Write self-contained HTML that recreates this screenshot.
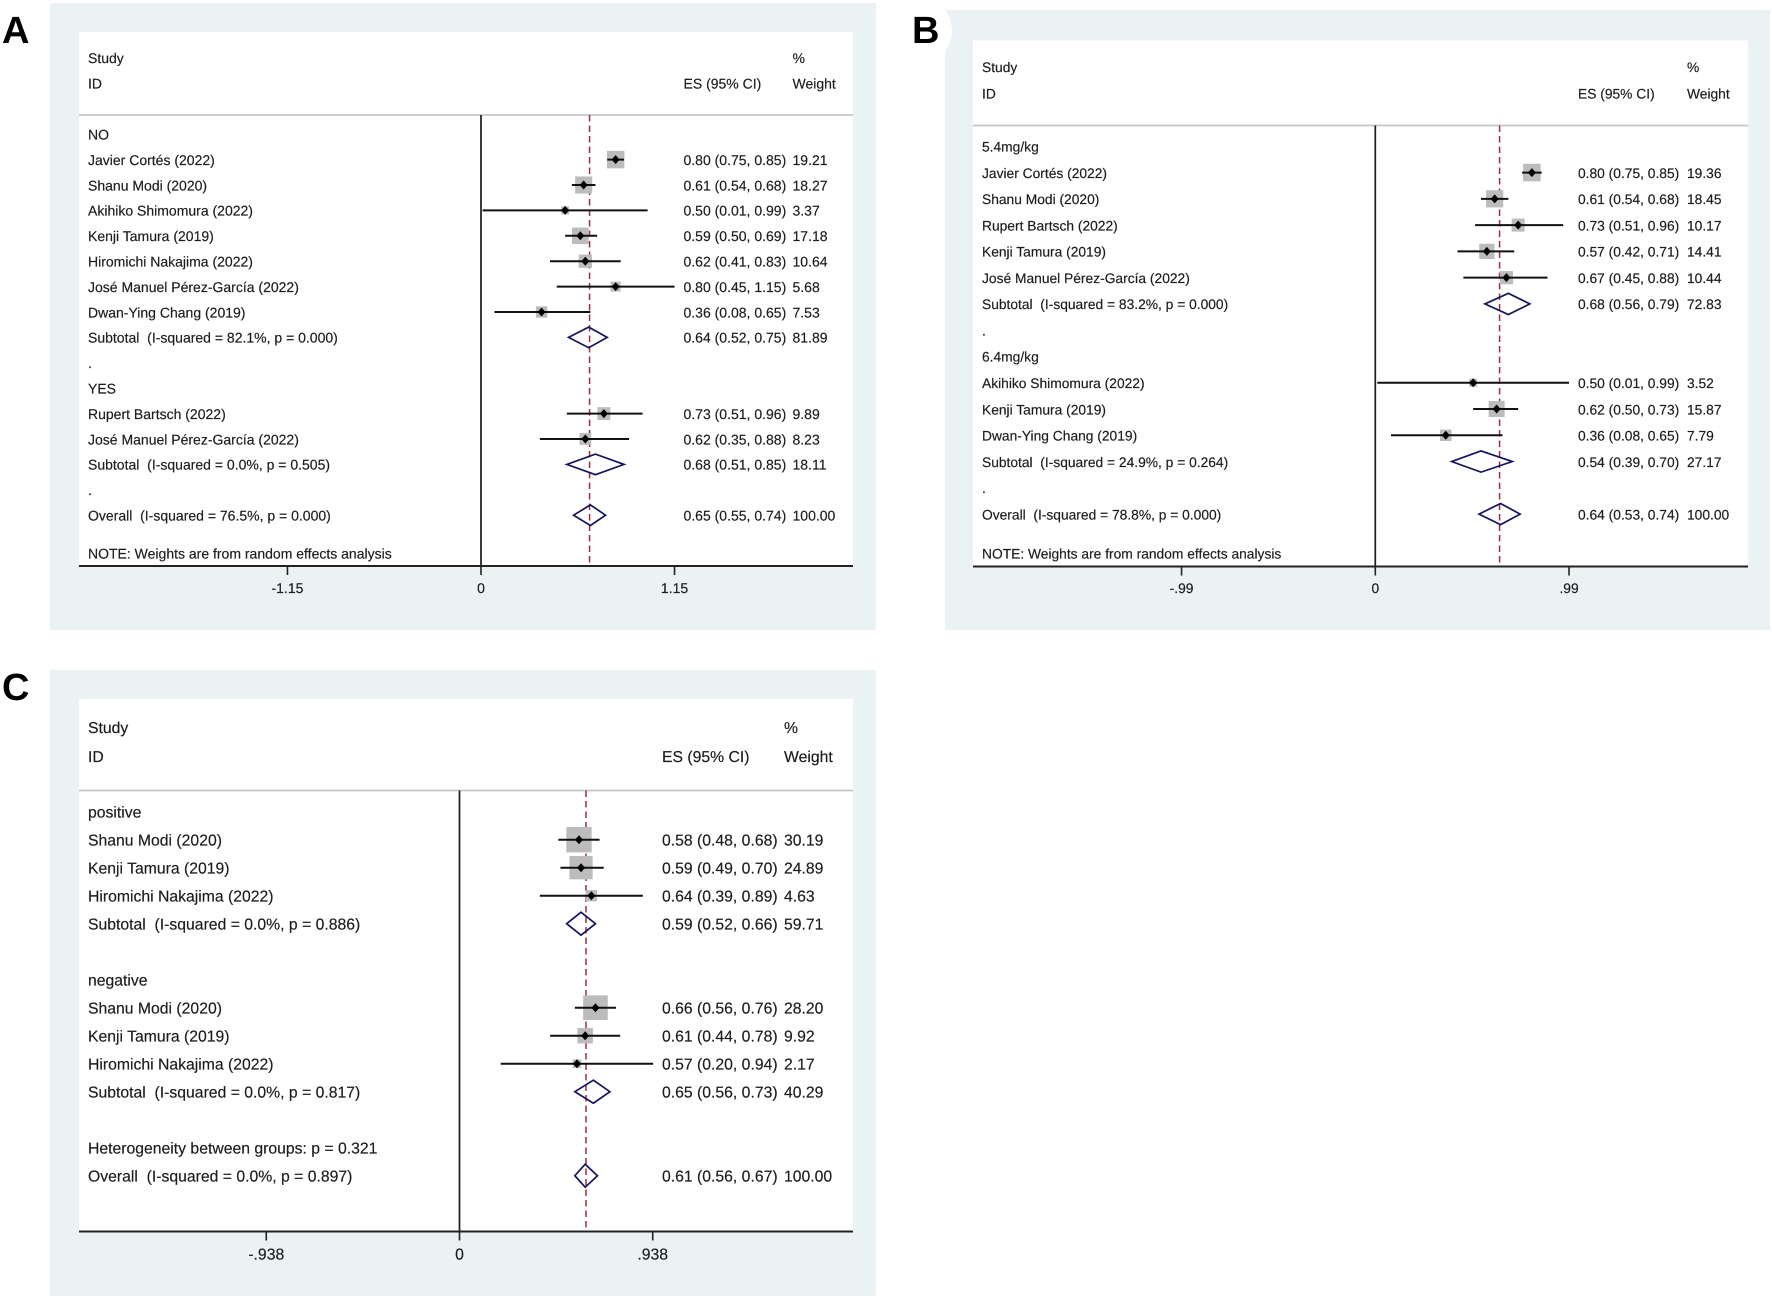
<!DOCTYPE html>
<html lang="en">
<head>
<meta charset="utf-8">
<title>Forest plots A, B and C</title>
<style>
html,body{margin:0;padding:0;background:#fff;}
#figure{display:block;width:1772px;height:1299px;}
text{font-family:"Liberation Sans",Arial,sans-serif;fill:#1c1c1c;stroke:#1c1c1c;stroke-width:0.18px;white-space:pre;text-rendering:geometricPrecision;}
</style>
</head>
<body>
<svg id="figure" xmlns="http://www.w3.org/2000/svg" width="1772" height="1299" viewBox="0 0 1772 1299"></svg>
<script>
// ---------- Panel A data ----------
const panelALabels = ["NO","Javier Cortés (2022)","Shanu Modi (2020)","Akihiko Shimomura (2022)","Kenji Tamura (2019)","Hiromichi Nakajima (2022)","José Manuel Pérez-García (2022)","Dwan-Ying Chang (2019)","Subtotal  (I-squared = 82.1%, p = 0.000)",".","YES","Rupert Bartsch (2022)","José Manuel Pérez-García (2022)","Subtotal  (I-squared = 0.0%, p = 0.505)",".","Overall  (I-squared = 76.5%, p = 0.000)"];
const panelAKinds = ["head","study","study","study","study","study","study","study","pool","head","head","study","study","pool","head","pool"];
const panelAEs = [null,0.80,0.61,0.50,0.59,0.62,0.80,0.36,0.64,null,null,0.73,0.62,0.68,null,0.65];
const panelALo = [null,0.75,0.54,0.01,0.50,0.41,0.45,0.08,0.52,null,null,0.51,0.35,0.51,null,0.55];
const panelAHi = [null,0.85,0.68,0.99,0.69,0.83,1.15,0.65,0.75,null,null,0.96,0.88,0.85,null,0.74];
const panelAWeights = [null,19.21,18.27,3.37,17.18,10.64,5.68,7.53,81.89,null,null,9.89,8.23,18.11,null,100.00];
const panelATickValues = [-1.15,0,1.15];
const panelATickLabels = ["-1.15","0","1.15"];
const panelAPooled = 0.645;

// ---------- Panel B data ----------
const panelBLabels = ["5.4mg/kg","Javier Cortés (2022)","Shanu Modi (2020)","Rupert Bartsch (2022)","Kenji Tamura (2019)","José Manuel Pérez-García (2022)","Subtotal  (I-squared = 83.2%, p = 0.000)",".","6.4mg/kg","Akihiko Shimomura (2022)","Kenji Tamura (2019)","Dwan-Ying Chang (2019)","Subtotal  (I-squared = 24.9%, p = 0.264)",".","Overall  (I-squared = 78.8%, p = 0.000)"];
const panelBKinds = ["head","study","study","study","study","study","pool","head","head","study","study","study","pool","head","pool"];
const panelBEs = [null,0.80,0.61,0.73,0.57,0.67,0.68,null,null,0.50,0.62,0.36,0.54,null,0.64];
const panelBLo = [null,0.75,0.54,0.51,0.42,0.45,0.56,null,null,0.01,0.50,0.08,0.39,null,0.53];
const panelBHi = [null,0.85,0.68,0.96,0.71,0.88,0.79,null,null,0.99,0.73,0.65,0.70,null,0.74];
const panelBWeights = [null,19.36,18.45,10.17,14.41,10.44,72.83,null,null,3.52,15.87,7.79,27.17,null,100.00];
const panelBTickValues = [-0.99,0,0.99];
const panelBTickLabels = ["-.99","0",".99"];
const panelBPooled = 0.635;

// ---------- Panel C data ----------
const panelCLabels = ["positive","Shanu Modi (2020)","Kenji Tamura (2019)","Hiromichi Nakajima (2022)","Subtotal  (I-squared = 0.0%, p = 0.886)","","negative","Shanu Modi (2020)","Kenji Tamura (2019)","Hiromichi Nakajima (2022)","Subtotal  (I-squared = 0.0%, p = 0.817)","","Heterogeneity between groups: p = 0.321","Overall  (I-squared = 0.0%, p = 0.897)"];
const panelCKinds = ["head","study","study","study","pool","head","head","study","study","study","pool","head","head","pool"];
const panelCEs = [null,0.58,0.59,0.64,0.59,null,null,0.66,0.61,0.57,0.65,null,null,0.61];
const panelCLo = [null,0.48,0.49,0.39,0.52,null,null,0.56,0.44,0.20,0.56,null,null,0.56];
const panelCHi = [null,0.68,0.70,0.89,0.66,null,null,0.76,0.78,0.94,0.73,null,null,0.67];
const panelCWeights = [null,30.19,24.89,4.63,59.71,null,null,28.20,9.92,2.17,40.29,null,null,100.00];
const panelCTickValues = [-0.938,0,0.938];
const panelCTickLabels = ["-.938","0",".938"];
const panelCPooled = 0.614;

const NS = "http://www.w3.org/2000/svg";
const figure = document.getElementById("figure");

function make(parent, tag, attrs, content) {
  const el = document.createElementNS(NS, tag);
  for (const k in attrs) el.setAttribute(k, attrs[k]);
  if (content !== undefined) el.textContent = content;
  parent.appendChild(el);
  return el;
}

function drawPanel(p) {
  const g = make(figure, "g", {});
  
  

  const bg = make(g, "path", {d: p.bgPath, fill: "#eaf2f3"});
  
  

  const plot = make(g, "rect", {x: p.left, y: p.top, width: p.right - p.left, height: p.axisY - p.top, fill: "#ffffff"});
  
  

  const letter = make(g, "text", {x: p.letterX, y: p.letterY, "font-size": 38, "font-weight": "bold", style: "fill:#000;stroke:none"}, p.id);
  
  

  const xScale = v => p.zeroX + v * p.unit;
  const rowY = i => p.firstY + i * p.rowStep;
  const fs = p.fontSize;
  const base = fs * 0.36;

  function label(x, y, str, name, anchor) {
    const t = make(g, "text", {x: x, y: y + base, "font-size": fs, "text-anchor": anchor || "start"}, str);
    
    
    return t;
  }

  label(p.labelX, p.studyY, "Study", "column-header-study");
  label(p.labelX, p.idY, "ID", "column-header-id");
  label(p.esX, p.idY, "ES (95% CI)", "column-header-es");
  label(p.weightX, p.studyY, "%", "column-header-percent");
  label(p.weightX, p.idY, "Weight", "column-header-weight");

  const headLine = make(g, "line", {x1: p.left, x2: p.right, y1: p.headY, y2: p.headY, stroke: "#c4c6c6", "stroke-width": 1.8});
  
  

  const pooledLine = make(g, "line", {x1: xScale(p.pooled), x2: xScale(p.pooled), y1: p.headY, y2: p.axisY, stroke: "#96303c", "stroke-width": 1.5, "stroke-dasharray": "6.5 4"});
  
  

  const zeroLine = make(g, "line", {x1: p.zeroX, x2: p.zeroX, y1: p.headY, y2: p.axisY, stroke: "#1a1a1a", "stroke-width": 1.7});
  
  

  const axis = make(g, "line", {x1: p.left, x2: p.right, y1: p.axisY, y2: p.axisY, stroke: "#222", "stroke-width": 1.9});
  
  

  p.tickValues.forEach((v, i) => {
    const tick = make(g, "line", {x1: xScale(v), x2: xScale(v), y1: p.axisY, y2: p.axisY + 9, stroke: "#222", "stroke-width": 1.6});
    
    
    label(xScale(v), p.tickLabelY, p.tickLabels[i], "x-axis-tick-label", "middle");
  });

  p.labels.forEach((str, i) => {
    const y = rowY(i);
    if (str) label(p.labelX, y, str, "row-label");
    const kind = p.kinds[i];
    if (kind === "head") return;
    const es = p.es[i], lo = p.lo[i], hi = p.hi[i], w = p.weights[i];
    label(p.esX, y, es.toFixed(2) + " (" + lo.toFixed(2) + ", " + hi.toFixed(2) + ")", "effect-size-value");
    label(p.weightX, y, w.toFixed(2), "weight-value");
    const cy = y - 0.3;
    if (kind === "study") {
      const size = p.boxPad + p.boxScale * Math.sqrt(w);
      const box = make(g, "rect", {x: xScale(es) - size / 2, y: cy - size / 2, width: size, height: size, fill: "#bcbcbc"});
      
      
      const ci = make(g, "line", {x1: xScale(lo), x2: xScale(hi), y1: cy, y2: cy, stroke: "#111", "stroke-width": 2});
      
      
      const cx = xScale(es);
      const dot = make(g, "polygon", {points: (cx - 4) + "," + cy + " " + cx + "," + (cy - 4.5) + " " + (cx + 4) + "," + cy + " " + cx + "," + (cy + 4.5), fill: "#000"});
      
      
    } else {
      const dh = p.diamondHalf;
      const pts = xScale(lo) + "," + cy + " " + xScale(es) + "," + (cy - dh) + " " + xScale(hi) + "," + cy + " " + xScale(es) + "," + (cy + dh);
      const dia = make(g, "polygon", {points: pts, fill: "none", stroke: "#14145f", "stroke-width": 1.7});
      
      
    }
  });

  if (p.note) label(p.labelX, p.noteY, p.note, "weights-note");
}

drawPanel({
  id: "A", bgPath: "M50 3H876V630H50Z", letterX: 2, letterY: 43,
  left: 79, right: 853, top: 32, axisY: 566, headY: 115,
  zeroX: 481, unit: 168.3, firstY: 134.5, rowStep: 25.4, fontSize: 14, boxScale: 3.74, boxPad: 1.1, diamondHalf: 10.3,
  labelX: 88, esX: 683.5, weightX: 792.5, studyY: 57.8, idY: 83.5, tickLabelY: 588,
  noteY: 553.6, note: "NOTE: Weights are from random effects analysis",
  labels: panelALabels, kinds: panelAKinds, es: panelAEs, lo: panelALo, hi: panelAHi, weights: panelAWeights,
  tickValues: panelATickValues, tickLabels: panelATickLabels, pooled: panelAPooled
});

drawPanel({
  id: "B", bgPath: "M945 10Q959 31 945 52V630H1770V10Z", letterX: 912, letterY: 43,
  left: 973, right: 1748, top: 40.5, axisY: 566.5, headY: 125.5,
  zeroX: 1375.3, unit: 195.7, firstY: 146.6, rowStep: 26.27, fontSize: 13.8, boxScale: 3.74, boxPad: 1.1, diamondHalf: 10.6,
  labelX: 982, esX: 1578, weightX: 1687, studyY: 67.2, idY: 93.7, tickLabelY: 588,
  noteY: 553.6, note: "NOTE: Weights are from random effects analysis",
  labels: panelBLabels, kinds: panelBKinds, es: panelBEs, lo: panelBLo, hi: panelBHi, weights: panelBWeights,
  tickValues: panelBTickValues, tickLabels: panelBTickLabels, pooled: panelBPooled
});

drawPanel({
  id: "C", bgPath: "M50 670H876V1296H50Z", letterX: 2, letterY: 700,
  left: 79, right: 853, top: 699, axisY: 1231.5, headY: 790.5,
  zeroX: 459.5, unit: 206, firstY: 812, rowStep: 28, fontSize: 15.75, boxScale: 4.2, boxPad: 2.3, diamondHalf: 11.5,
  labelX: 88, esX: 662, weightX: 784, studyY: 727.5, idY: 756.2, tickLabelY: 1254,
  labels: panelCLabels, kinds: panelCKinds, es: panelCEs, lo: panelCLo, hi: panelCHi, weights: panelCWeights,
  tickValues: panelCTickValues, tickLabels: panelCTickLabels, pooled: panelCPooled
});
</script>
</body>
</html>
